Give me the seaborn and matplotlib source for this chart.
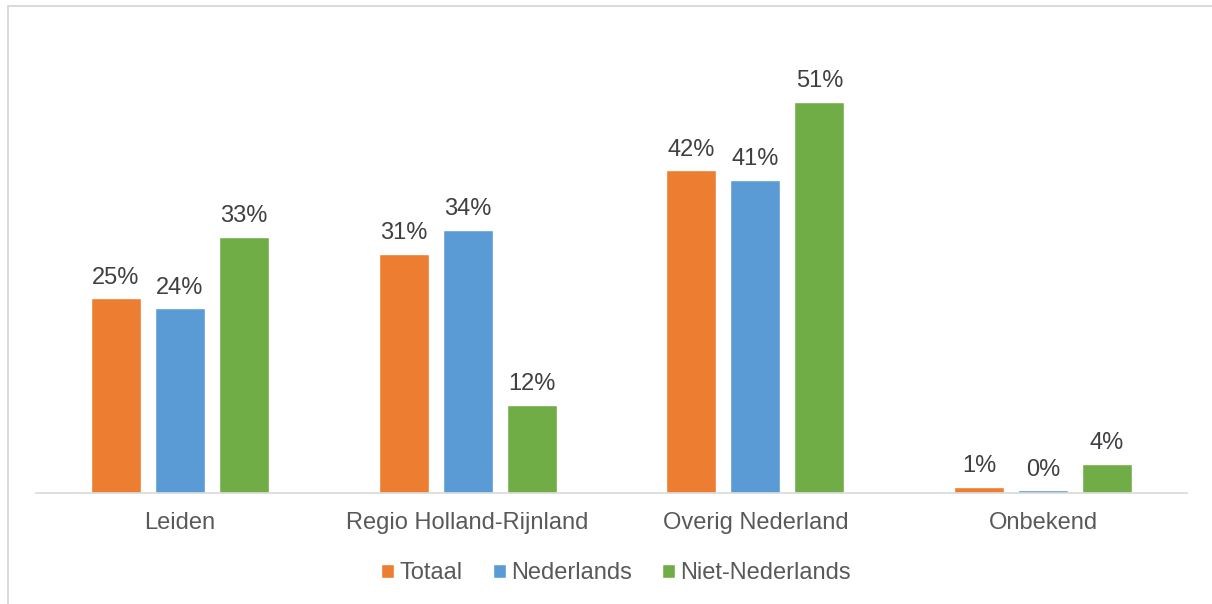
import matplotlib
matplotlib.use("Agg")
import matplotlib.pyplot as plt
import seaborn as sns
import pandas as pd
from matplotlib.lines import Line2D

categories = ["Leiden", "Regio Holland-Rijnland", "Overig Nederland", "Onbekend"]
series_names = ["Totaal", "Nederlands", "Niet-Nederlands"]
totaal = [25.4, 31.2, 42.1, 0.8]
nederlands = [24.1, 34.3, 40.8, 0.35]
niet_nederlands = [33.4, 11.5, 51.0, 3.8]
colors = ["#ED7D31", "#5B9BD5", "#70AD47"]

rows = []
for name, vals in zip(series_names, [totaal, nederlands, niet_nederlands]):
    for c, v in zip(categories, vals):
        rows.append({"cat": c, "serie": name, "val": v})
df = pd.DataFrame(rows)

sns.set_theme(style="white")
plt.rcParams["font.family"] = ["Liberation Sans", "DejaVu Sans"]

W, H = 1212, 604
fig = plt.figure(figsize=(W / 100, H / 100), dpi=100)
ax_left, ax_right, ax_bottom = 36, 1187, 493
ymax = 60
px_per = 391 / 51.0
ax_h = ymax * px_per
ax = fig.add_axes([ax_left / W, (H - ax_bottom) / H, (ax_right - ax_left) / W, ax_h / H])

sns.barplot(data=df, x="cat", y="val", hue="serie", order=categories,
            hue_order=series_names, palette=colors, width=0.667, gap=0.22,
            saturation=1, ax=ax, legend=True)

for cont in ax.containers:
    labels = [f"{round(b.get_height()):d}%" for b in cont]
    ax.bar_label(cont, labels=labels, padding=7, fontsize=17, color="#404040")

handles, labs = ax.get_legend_handles_labels()
ax.get_legend().remove()

ax.set_xlim(-0.5, 3.5)
ax.set_ylim(0, ymax)
ax.set_xlabel("")
ax.set_ylabel("")
ax.set_yticks([])
for s in ["top", "right", "left"]:
    ax.spines[s].set_visible(False)
ax.spines["bottom"].set_color("#D9D9D9")
ax.spines["bottom"].set_linewidth(1.2)
ax.tick_params(axis="x", length=0, pad=14, labelsize=17, labelcolor="#595959")
ax.patch.set_alpha(0)

fig.legend(handles, labs, loc="center", bbox_to_anchor=(616 / W, 1 - 573 / H),
           ncol=3, frameon=False, fontsize=17, labelcolor="#595959",
           handlelength=0.55, handleheight=0.55, handletextpad=0.2,
           columnspacing=1.3)

# chart area border (top and left visible)
fig.add_artist(Line2D([7.5 / W, 1.0], [1 - 5.5 / H, 1 - 5.5 / H],
                      transform=fig.transFigure, color="#D9D9D9", linewidth=1.4))
fig.add_artist(Line2D([7.5 / W, 7.5 / W], [0, 1 - 5.5 / H],
                      transform=fig.transFigure, color="#D9D9D9", linewidth=1.4))

fig.savefig("out.png", dpi=100)
